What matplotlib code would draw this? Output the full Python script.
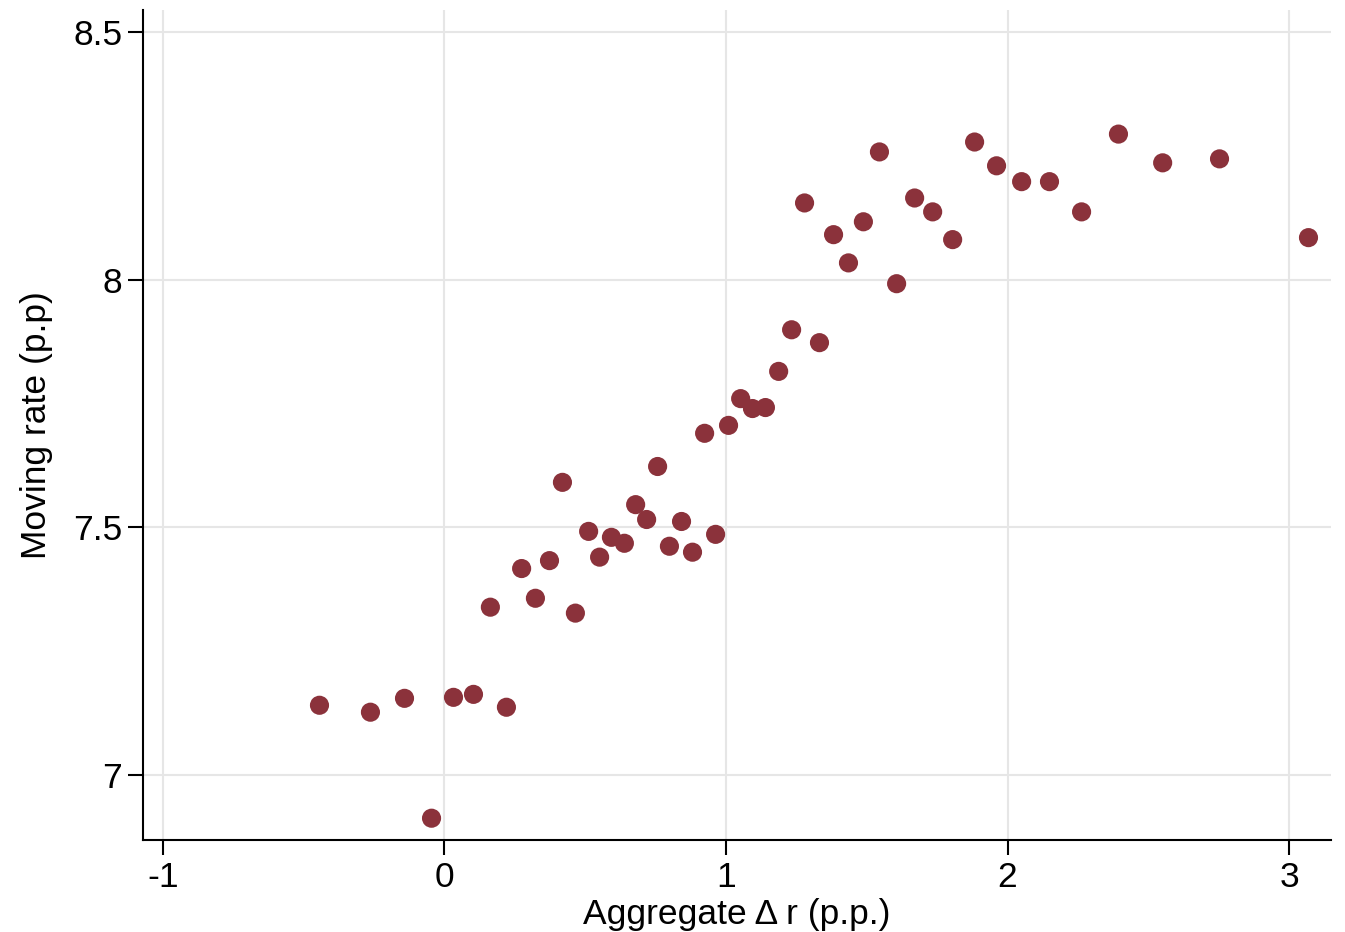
import matplotlib
matplotlib.use("Agg")
import matplotlib.pyplot as plt

x_vals = [-0.444, -0.263, -0.142, -0.046, 0.032, 0.103, 0.220, 0.163, 0.274, 0.323,
          0.373, 0.419, 0.465, 0.512, 0.551, 0.593, 0.639, 0.679, 0.718, 0.757,
          0.799, 0.842, 0.881, 0.924, 0.963, 1.009, 1.052, 1.094, 1.140, 1.187,
          1.233, 1.279, 1.332, 1.382, 1.435, 1.488, 1.545, 1.606, 1.670, 1.734,
          1.805, 1.883, 1.961, 2.050, 2.149, 2.263, 2.394, 2.551, 2.753, 3.069]
y_vals = [7.141, 7.127, 7.155, 6.913, 7.157, 7.163, 7.137, 7.339, 7.417, 7.357,
          7.433, 7.591, 7.327, 7.492, 7.440, 7.480, 7.468, 7.546, 7.516, 7.623,
          7.462, 7.512, 7.450, 7.690, 7.486, 7.706, 7.760, 7.740, 7.742, 7.815,
          7.899, 8.155, 7.873, 8.091, 8.034, 8.117, 8.258, 7.992, 8.165, 8.137,
          8.081, 8.278, 8.230, 8.198, 8.198, 8.137, 8.294, 8.236, 8.244, 8.085]
x_ticks = [-1, 0, 1, 2, 3]
x_tick_labels = ["-1", "0", "1", "2", "3"]
y_ticks = [7, 7.5, 8, 8.5]
y_tick_labels = ["7", "7.5", "8", "8.5"]
x_label = "Aggregate Δ r (p.p.)"
y_label = "Moving rate (p.p)"

plt.rcParams['font.family'] = ['Liberation Sans', 'DejaVu Sans']

fig = plt.figure(figsize=(13.45, 9.32), dpi=100)
ax = fig.add_axes([0.1063, 0.0987, 0.8833, 0.8903])

ax.scatter(x_vals, y_vals, s=190, color='#8B323B', edgecolors='none', zorder=3)

ax.set_xlim(-1.071, 3.149)
ax.set_ylim(6.869, 8.544)
ax.set_xticks(x_ticks)
ax.set_xticklabels(x_tick_labels)
ax.set_yticks(y_ticks)
ax.set_yticklabels(y_tick_labels)

ax.grid(True, color='#E6E6E6', linewidth=1.5, zorder=0)
ax.set_axisbelow(True)

for s in ['top', 'right']:
    ax.spines[s].set_visible(False)
for s in ['left', 'bottom']:
    ax.spines[s].set_linewidth(1.5)
    ax.spines[s].set_color('black')

ax.tick_params(axis='both', direction='out', length=11, width=1.5, labelsize=25.5, pad=4, colors='black')

ax.set_xlabel(x_label, fontsize=25.5, labelpad=3)
ax.set_ylabel(y_label, fontsize=25.5, labelpad=14)

fig.savefig("out.png", dpi=100, facecolor='white')
